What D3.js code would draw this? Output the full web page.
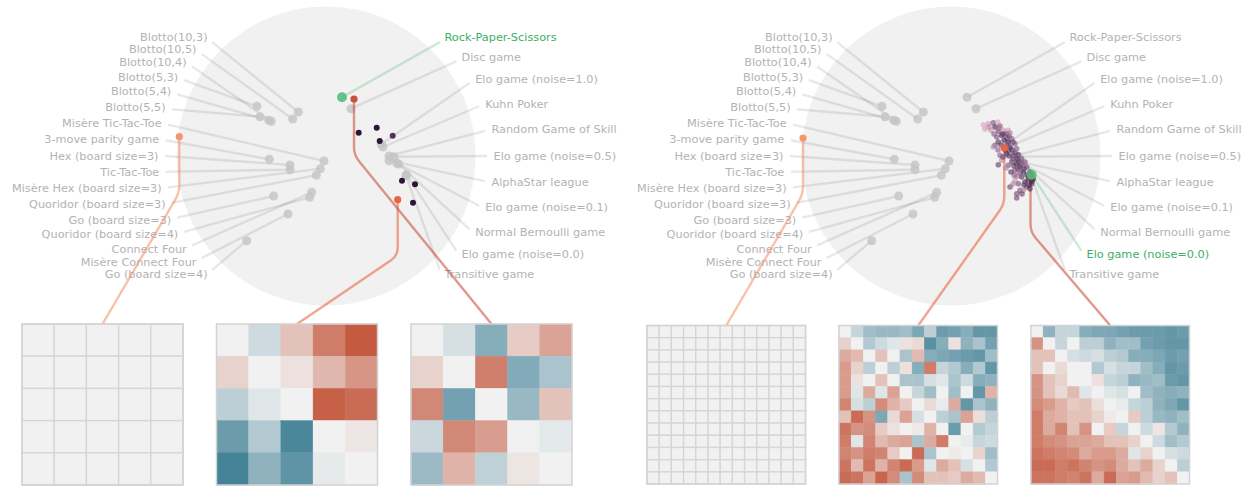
<!DOCTYPE html>
<html>
<head>
<meta charset="utf-8">
<script src="https://cdn.jsdelivr.net/npm/d3@7"></script>
<style>
  body { margin: 0; background: #fff; }
  svg { display: block; font-family: "DejaVu Sans", sans-serif; }
</style>
</head>
<body>
<script>
// Games placed on the left arc of each panel (top to bottom)
const leftGames = ['Blotto(10,3)', 'Blotto(10,5)', 'Blotto(10,4)', 'Blotto(5,3)', 'Blotto(5,4)', 'Blotto(5,5)',
  'Misère Tic-Tac-Toe', '3-move parity game', 'Hex (board size=3)', 'Tic-Tac-Toe', 'Misère Hex (board size=3)',
  'Quoridor (board size=3)', 'Go (board size=3)', 'Quoridor (board size=4)', 'Connect Four',
  'Misère Connect Four', 'Go (board size=4)'];
// embedding coordinates of those games
const leftGameXY = [[-0.277, -0.44], [-0.333, -0.37], [-0.547, -0.347], [-0.69, -0.497], [-0.573, -0.357],
  [-0.66, -0.393], [-0.02, 0.05], [-0.567, 0.033], [-0.36, 0.09], [-0.36, 0.137], [-0.057, 0.127],
  [-0.097, 0.193], [-0.523, 0.40], [-0.163, 0.413], [-0.143, 0.363], [-0.38, 0.58], [-0.793, 0.847]];

// Games placed on the right arc
const rightGames = ['Rock-Paper-Scissors', 'Disc game', 'Elo game (noise=1.0)', 'Kuhn Poker',
  'Random Game of Skill', 'Elo game (noise=0.5)', 'AlphaStar league', 'Elo game (noise=0.1)',
  'Normal Bernoulli game', 'Elo game (noise=0.0)', 'Transitive game'];
const rightGameXY = [[0.16, -0.587], [0.25, -0.473], [0.553, -0.117], [0.57, -0.09], [0.63, 0.0],
  [0.68, 0.007], [0.63, 0.047], [0.707, 0.073], [0.727, 0.08], [0.807, 0.187], [0.80, 0.195]];

// population members [x, y, shade]
const populationLeft = [[0.327, -0.233, 1], [0.507, -0.283, 1], [0.537, -0.15, 1], [0.667, -0.203, 0.78],
  [0.76, 0.247, 1], [0.89, 0.283, 1], [0.87, 0.467, 1]];
const populationRight = [
  [0.323, -0.313, 0.1], [0.373, -0.323, 0.15], [0.423, -0.333, 0.6], [0.467, -0.34, 0.1], [0.44, -0.29, 0.9],
  [0.49, -0.30, 0.5], [0.40, -0.257, 0.2], [0.473, -0.247, 0.7], [0.523, -0.257, 0.2], [0.573, -0.257, 0.15],
  [0.557, -0.223, 0.6], [0.457, -0.19, 0.6], [0.507, -0.207, 0.85], [0.557, -0.18, 0.6], [0.607, -0.173, 0.5],
  [0.473, -0.14, 0.8], [0.573, -0.14, 0.9], [0.64, -0.123, 0.5], [0.44, -0.107, 0.6], [0.423, -0.09, 0.25],
  [0.59, -0.09, 0.85], [0.657, -0.073, 0.55], [0.573, -0.047, 0.6], [0.49, -0.007, 0.5], [0.557, -0.023, 0.85],
  [0.623, -0.007, 0.6], [0.673, -0.013, 0.8], [0.707, 0.027, 0.6], [0.507, 0.043, 0.25], [0.607, 0.06, 0.6],
  [0.657, 0.077, 0.85], [0.74, 0.06, 0.5], [0.473, 0.087, 0.75], [0.573, 0.093, 0.55], [0.69, 0.11, 0.9],
  [0.757, 0.11, 0.6], [0.64, 0.143, 0.55], [0.723, 0.16, 0.9], [0.79, 0.16, 0.9], [0.633, 0.193, 0.5],
  [0.707, 0.21, 0.85], [0.823, 0.227, 0.95], [0.74, 0.26, 0.9], [0.807, 0.277, 0.9], [0.64, 0.243, 0.2],
  [0.673, 0.277, 0.6], [0.757, 0.31, 0.6], [0.59, 0.31, 0.7], [0.69, 0.343, 0.6], [0.657, 0.377, 0.65],
  [0.723, 0.343, 0.3], [0.79, 0.327, 0.85], [0.657, 0.42, 0.65],
  [0.52, -0.22, 0.8], [0.58, -0.20, 0.7], [0.53, -0.16, 0.9], [0.62, -0.14, 0.7], [0.50, -0.11, 0.8],
  [0.56, -0.11, 0.6], [0.61, -0.06, 0.9], [0.54, -0.06, 0.7], [0.64, -0.03, 0.7], [0.58, 0.00, 0.8],
  [0.66, 0.03, 0.9], [0.62, 0.03, 0.6], [0.68, 0.06, 0.7], [0.63, 0.10, 0.8], [0.71, 0.08, 0.6],
  [0.67, 0.13, 0.7], [0.73, 0.13, 0.8], [0.69, 0.17, 0.6], [0.76, 0.19, 0.95], [0.78, 0.21, 0.95],
  [0.80, 0.19, 0.95], [0.77, 0.24, 0.9], [0.81, 0.25, 0.95], [0.73, 0.29, 0.8], [0.78, 0.29, 0.9],
  [0.48, -0.28, 0.4], [0.43, -0.22, 0.5], [0.38, -0.29, 0.3], [0.34, -0.27, 0.15], [0.59, -0.23, 0.3],
  [0.47, -0.06, 0.5], [0.52, 0.01, 0.7], [0.55, 0.12, 0.3], [0.60, 0.16, 0.8], [0.66, 0.20, 0.4],
  [0.62, 0.28, 0.3], [0.71, 0.38, 0.7]];

// selected points, in heatmap order (left, middle, right)
const tracedLeft = [[-1.467, -0.193], [0.717, 0.437], [0.28, -0.57]];
const tracedRight = [[-1.48, -0.18], [0.533, -0.08], [0.795, 0.2]];
const tracedColors = ['#f4956a', '#e9643f', '#c9503a'];

// payoff matrices
const payoffUniform5 = [
  [0, 0, 0, 0, 0], [0, 0, 0, 0, 0], [0, 0, 0, 0, 0], [0, 0, 0, 0, 0], [0, 0, 0, 0, 0]];
const payoffA5 = [
  [0, -0.2, 0.3, 0.75, 0.97],
  [0.2, 0, 0.1, 0.37, 0.59],
  [-0.3, -0.1, 0, 0.93, 0.85],
  [-0.75, -0.35, -0.93, 0, 0.07],
  [-0.97, -0.55, -0.82, -0.06, 0]];
const payoffB5 = [
  [0, -0.15, -0.6, 0.24, 0.5],
  [0.2, 0, 0.73, -0.62, -0.4],
  [0.67, -0.7, 0, -0.5, 0.3],
  [-0.22, 0.67, 0.54, 0, -0.08],
  [-0.48, 0.4, -0.28, 0.08, 0]];
const payoffUniform13 = [
  [0, 0, 0, 0, 0, 0, 0, 0, 0, 0, 0, 0, 0], [0, 0, 0, 0, 0, 0, 0, 0, 0, 0, 0, 0, 0],
  [0, 0, 0, 0, 0, 0, 0, 0, 0, 0, 0, 0, 0], [0, 0, 0, 0, 0, 0, 0, 0, 0, 0, 0, 0, 0],
  [0, 0, 0, 0, 0, 0, 0, 0, 0, 0, 0, 0, 0], [0, 0, 0, 0, 0, 0, 0, 0, 0, 0, 0, 0, 0],
  [0, 0, 0, 0, 0, 0, 0, 0, 0, 0, 0, 0, 0], [0, 0, 0, 0, 0, 0, 0, 0, 0, 0, 0, 0, 0],
  [0, 0, 0, 0, 0, 0, 0, 0, 0, 0, 0, 0, 0], [0, 0, 0, 0, 0, 0, 0, 0, 0, 0, 0, 0, 0],
  [0, 0, 0, 0, 0, 0, 0, 0, 0, 0, 0, 0, 0], [0, 0, 0, 0, 0, 0, 0, 0, 0, 0, 0, 0, 0],
  [0, 0, 0, 0, 0, 0, 0, 0, 0, 0, 0, 0, 0]];
const payoffA13 = [
  [0, -0.25, -0.45, -0.5, -0.5, -0.45, -0.65, -0.3, -0.75, -0.7, -0.6, -0.8, -0.8],
  [0.2, 0, -0.35, -0.2, -0.1, 0.1, 0.15, -0.85, -0.6, 0.1, -0.55, -0.4, -0.7],
  [0.45, 0.35, 0, 0.3, 0, -0.4, 0.35, -0.6, -0.65, -0.7, -0.75, -0.8, -0.45],
  [0.55, 0.2, -0.3, 0, -0.3, 0.1, -0.6, 0.75, -0.25, -0.35, -0.6, -0.35, -0.8],
  [0.55, 0.1, 0, 0.3, 0, -0.4, -0.4, -0.15, -0.1, -0.4, -0.2, -0.6, -0.55],
  [0.55, -0.1, 0.45, -0.1, 0.5, 0, -0.25, -0.45, 0, -0.45, 0, -0.8, 0.4],
  [0.7, -0.15, -0.3, 0.65, 0.4, 0.25, 0, 0.15, -0.05, 0.45, -0.8, -0.4, -0.55],
  [0.3, 0.85, 0.6, -0.65, 0.15, 0.5, -0.15, 0, -0.3, -0.4, 0.5, 0.12, -0.3],
  [0.8, 0.6, 0.65, 0.25, 0.1, 0, 0.05, 0.4, 0, -0.75, 0, -0.35, -0.25],
  [0.75, -0.1, 0.7, 0.35, 0.45, 0.5, -0.4, 0.45, 0.75, 0, -0.05, -0.25, -0.2],
  [0.7, 0.6, 0.75, 0.7, 0.25, 0, 0.85, -0.4, 0, 0.05, 0, 0.2, -0.45],
  [0.8, 0.35, 0.8, 0.4, 0.7, 0.85, 0.55, -0.1, 0.45, 0.3, -0.15, 0, -0.35],
  [0.85, 0.8, 0.5, 0.9, 0.65, -0.4, 0.65, 0.3, 0.3, 0.25, 0.45, 0.35, 0]];
const payoffB13 = [
  [0, -0.55, -0.25, -0.25, -0.6, -0.65, -0.65, -0.7, -0.75, -0.75, -0.75, -0.8, -0.75],
  [0.6, 0, -0.25, 0, -0.3, -0.3, -0.55, -0.45, -0.45, -0.7, -0.75, -0.8, -0.8],
  [0.3, 0.3, 0, -0.15, -0.2, -0.15, -0.3, -0.35, -0.6, -0.6, -0.65, -0.75, -0.7],
  [0.3, 0, 0.15, 0, 0, -0.35, -0.15, -0.25, -0.25, -0.45, -0.6, -0.8, -0.75],
  [0.6, 0.3, 0.2, 0, 0, 0.1, -0.25, -0.3, -0.55, -0.5, -0.45, -0.75, -0.8],
  [0.6, 0.3, 0.15, 0.35, -0.1, 0, -0.1, -0.15, 0, -0.45, -0.55, -0.6, -0.55],
  [0.65, 0.55, 0.4, 0.25, 0.3, 0.12, 0, -0.05, -0.25, -0.3, -0.55, -0.65, -0.8],
  [0.75, 0.45, 0.4, 0.3, 0.3, 0.2, 0.05, 0, 0.25, -0.3, -0.5, -0.55, -0.45],
  [0.75, 0.45, 0.7, 0.3, 0.6, 0, 0.25, -0.25, 0, -0.2, 0.08, -0.35, -0.55],
  [0.75, 0.65, 0.6, 0.5, 0.5, 0.45, 0.3, 0.3, 0.2, 0, -0.2, -0.45, -0.35],
  [0.8, 0.75, 0.7, 0.65, 0.45, 0.55, 0.55, 0.45, -0.1, 0.2, 0, -0.15, -0.2],
  [0.85, 0.85, 0.75, 0.8, 0.7, 0.6, 0.65, 0.45, 0.3, 0.45, 0.2, 0, -0.3],
  [0.8, 0.8, 0.75, 0.7, 0.8, 0.45, 0.85, 0.5, 0.55, 0.35, 0.2, 0.3, 0]];

const width = 1251;
const height = 486;
const green = '#3dae68';
const cy = 156;

const payoffColor = d3.scaleLinear()
  .domain([-1, 0, 1])
  .range(['#3f7f95', '#f1f1f1', '#c3553a']);

const shadeColor = d3.scaleLinear()
  .domain([0, 0.5, 1])
  .range(['#efb7c5', '#8a5587', '#2e1538']);

const svg = d3.select('body')
  .append('svg')
  .attr('width', width)
  .attr('height', height);

const panels = [
  { cx: 326, highlight: 'Rock-Paper-Scissors', pop: populationLeft, popR: 3, popOpacity: 1,
    traced: tracedLeft, mats: [payoffUniform5, payoffA5, payoffB5], hmRange: [22, 572], hmTop: 324, hmPad: 0.172 },
  { cx: 951, highlight: 'Elo game (noise=0.0)', pop: populationRight, popR: 2.8, popOpacity: 0.6,
    traced: tracedRight, mats: [payoffUniform13, payoffA13, payoffB13], hmRange: [647, 1189.5], hmTop: 325.5, hmPad: 0.174 }
];

panels.forEach(drawPanel);

function drawPanel(p) {
  const r = 149.5, labelR = 167.5, lineR = 161;
  const g = svg.append('g');

  const x = d3.scaleLinear().domain([-1.5, 1.5]).range([p.cx - 150, p.cx + 150]);
  const y = d3.scaleLinear().domain([-1.5, 1.5]).range([cy - 150, cy + 150]);
  const angleL = d3.scaleLinear().domain([0, leftGames.length - 1]).range([-Math.PI / 4, Math.PI / 4]);
  const angleR = d3.scaleLinear().domain([0, rightGames.length - 1]).range([-Math.PI / 4, Math.PI / 4]);

  const games = leftGames.map((name, i) => ({ name, side: -1, a: angleL(i), xy: leftGameXY[i] }))
    .concat(rightGames.map((name, i) => ({ name, side: 1, a: angleR(i), xy: rightGameXY[i] })));

  g.append('circle')
    .attr('cx', p.cx).attr('cy', cy).attr('r', r)
    .attr('fill', '#f1f1f1');

  // label -> game lines
  g.selectAll('.link')
    .data(games)
    .join('line')
    .attr('class', 'link')
    .attr('x1', d => p.cx + d.side * lineR * Math.cos(d.a))
    .attr('y1', d => cy + lineR * Math.sin(d.a))
    .attr('x2', d => x(d.xy[0]))
    .attr('y2', d => y(d.xy[1]))
    .attr('stroke', d => d.name === p.highlight ? green : '#000')
    .attr('stroke-opacity', d => d.name === p.highlight ? 0.25 : 0.09)
    .attr('stroke-width', 2.4);

  g.selectAll('.label')
    .data(games)
    .join('text')
    .attr('class', 'label')
    .attr('x', d => p.cx + d.side * labelR * Math.cos(d.a))
    .attr('y', d => cy + labelR * Math.sin(d.a))
    .attr('dominant-baseline', 'central')
    .attr('text-anchor', d => d.side < 0 ? 'end' : 'start')
    .style('font-size', '11.3px')
    .attr('fill', d => d.name === p.highlight ? green : '#b3b3b3')
    .text(d => d.name);

  // gray game dots
  g.selectAll('.game')
    .data(games.filter(d => d.name !== p.highlight))
    .join('circle')
    .attr('class', 'game')
    .attr('cx', d => x(d.xy[0]))
    .attr('cy', d => y(d.xy[1]))
    .attr('r', 4.5)
    .attr('fill', '#c4c4c4')
    .attr('fill-opacity', 0.8);

  // heatmap placement
  const hm = d3.scaleBand().domain([0, 1, 2]).range(p.hmRange).paddingInner(p.hmPad);
  const size = hm.bandwidth();

  // connectors from selected points down to their heatmaps
  p.traced.forEach((t, i) => {
    const x0 = x(t[0]), y0 = y(t[1]);
    const yb = y0 + 56;
    const tx = hm(i) + size / 2, ty = p.hmTop;
    const len = Math.hypot(tx - x0, ty - yb);
    const ux = (tx - x0) / len, uy = (ty - yb) / len;
    const rr = 8;
    g.append('path')
      .attr('d', `M${x0},${y0}V${yb - rr}Q${x0},${yb} ${x0 + ux * rr},${yb + uy * rr}L${tx},${ty}`)
      .attr('fill', 'none')
      .attr('stroke', tracedColors[i])
      .attr('stroke-opacity', 0.58)
      .attr('stroke-width', 2.4);
  });

  // population
  g.selectAll('.pop')
    .data(p.pop)
    .join('circle')
    .attr('class', 'pop')
    .attr('cx', d => x(d[0]))
    .attr('cy', d => y(d[1]))
    .attr('r', p.popR)
    .attr('fill', d => shadeColor(d[2]))
    .attr('fill-opacity', p.popOpacity);

  g.selectAll('.traced')
    .data(p.traced)
    .join('circle')
    .attr('class', 'traced')
    .attr('cx', d => x(d[0]))
    .attr('cy', d => y(d[1]))
    .attr('r', 3.6)
    .attr('fill', (d, i) => tracedColors[i]);

  // highlighted game on top
  const hl = games.find(d => d.name === p.highlight);
  g.append('circle')
    .attr('cx', x(hl.xy[0]))
    .attr('cy', y(hl.xy[1]))
    .attr('r', 5)
    .attr('fill', '#4fbb7b')
    .attr('fill-opacity', 0.85);

  // heatmaps
  p.mats.forEach((mat, i) => {
    const n = mat.length;
    const cell = d3.scaleBand().domain(d3.range(n)).range([0, size]);
    const gridded = d3.max(mat.flat(), v => Math.abs(v)) === 0;
    const hg = g.append('g').attr('transform', `translate(${hm(i)},${p.hmTop})`);

    hg.selectAll('.row')
      .data(mat)
      .join('g')
      .attr('class', 'row')
      .attr('transform', (d, k) => `translate(0,${cell(k)})`)
      .selectAll('rect')
      .data(d => d)
      .join('rect')
      .attr('x', (d, j) => cell(j))
      .attr('width', cell.bandwidth())
      .attr('height', cell.bandwidth())
      .attr('fill', d => payoffColor(d))
      .attr('stroke', d => gridded ? '#d5d5d5' : payoffColor(d))
      .attr('stroke-width', gridded ? 1.3 : 0.5);

    hg.append('rect')
      .attr('width', size)
      .attr('height', size)
      .attr('fill', 'none')
      .attr('stroke', '#d3d3d3')
      .attr('stroke-width', 1.5);
  });
}
</script>
</body>
</html>
